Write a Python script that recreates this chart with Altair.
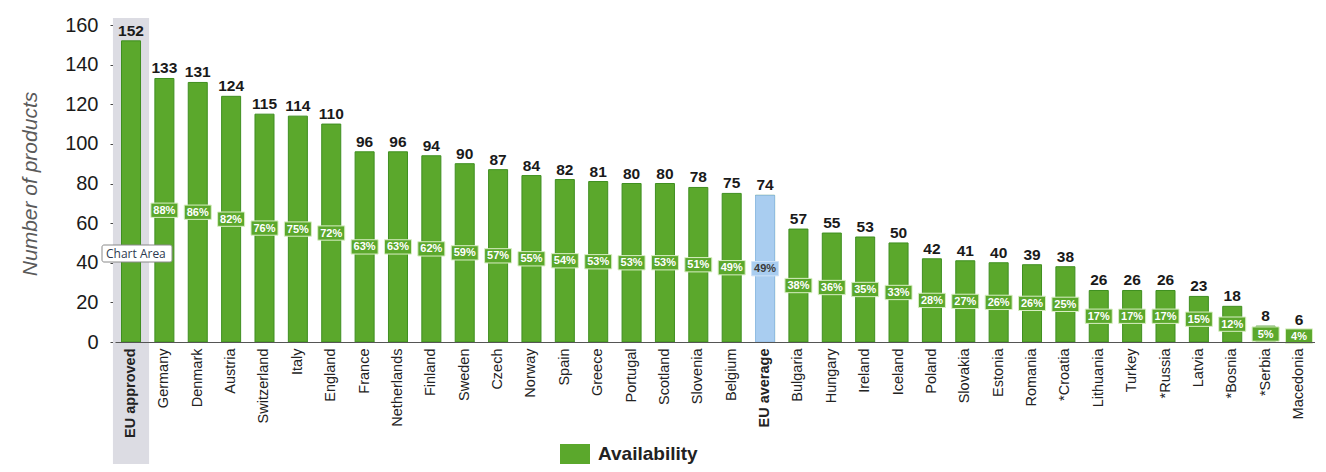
import altair as alt
import pandas as pd

countries = ["EU approved", "Germany", "Denmark", "Austria", "Switzerland", "Italy",
             "England", "France", "Netherlands", "Finland", "Sweden", "Czech", "Norway",
             "Spain", "Greece", "Portugal", "Scotland", "Slovenia", "Belgium", "EU average",
             "Bulgaria", "Hungary", "Ireland", "Iceland", "Poland", "Slovakia", "Estonia",
             "Romania", "*Croatia", "Lithuania", "Turkey", "*Russia", "Latvia", "*Bosnia",
             "*Serbia", "Macedonia"]
values = [152, 133, 131, 124, 115, 114, 110, 96, 96, 94, 90, 87, 84, 82, 81, 80, 80, 78,
          75, 74, 57, 55, 53, 50, 42, 41, 40, 39, 38, 26, 26, 26, 23, 18, 8, 6]
percents = [None, 88, 86, 82, 76, 75, 72, 63, 63, 62, 59, 57, 55, 54, 53, 53, 53, 51,
            49, 49, 38, 36, 35, 33, 28, 27, 26, 26, 25, 17, 17, 17, 15, 12, 5, 4]
y_ticks = [0, 20, 40, 60, 80, 100, 120, 140, 160]
series_name = "Availability"
highlight_band = "EU approved"
average_name = "EU average"

GREEN = "#5ba82c"
GREEN_EDGE = "#3f8f20"
BLUE = "#a9cdf0"
BLUE_EDGE = "#93bde6"
BAND = "#dcdce3"
FONT = "Liberation Sans"

df = pd.DataFrame({
    "country": countries,
    "value": values,
    "pct": percents,
    "series": [series_name] * len(countries),
})
df["pct_label"] = [f"{p}%" if p is not None else "" for p in percents]

x_axis = alt.Axis(
    title=None,
    labelAngle=-90,
    labelFontSize=14.5,
    labelColor="#222222",
    labelFontWeight=alt.ExprRef(
        "datum.value == 'EU approved' || datum.value == 'EU average' ? 'bold' : 'normal'"
    ),
    labelOverlap=False,
    ticks=False,
    tickSize=0,
    labelPadding=6,
    domainColor="#555555",
    domainWidth=1.2,
    zindex=1,
)
x_scale = alt.Scale(paddingInner=0.43, paddingOuter=0.195)
y_scale = alt.Scale(domain=[0, 160], nice=False)
y_axis = alt.Axis(
    title="Number of products",
    titleFontStyle="italic",
    titleFontWeight="normal",
    titleFontSize=21,
    titleColor="#5a5a5a",
    titlePadding=24,
    values=y_ticks,
    tickCount=9,
    labelOverlap=False,
    labelFontSize=20,
    labelColor="#1a1a1a",
    labelPadding=12,
    tickSize=5,
    tickColor="#444444",
    domainColor="#444444",
    domainWidth=1.2,
    grid=False,
)


def X():
    return alt.X("country:N", sort=countries, scale=x_scale, axis=x_axis)


def Y(field):
    return alt.Y(field, scale=y_scale, axis=y_axis)


base = alt.Chart(df)

band = base.transform_filter(alt.datum.country == highlight_band).mark_bar(
    color=BAND, width=alt.RelativeBandSize(1.9)
).encode(
    x=X(),
    y=alt.value(-7),
    y2=alt.value(440),
)

bars = base.mark_bar(stroke=GREEN_EDGE, strokeWidth=1).encode(
    x=X(),
    y=Y("value:Q"),
    color=alt.Color(
        "series:N",
        scale=alt.Scale(domain=[series_name], range=[GREEN]),
        legend=alt.Legend(
            title=None,
            orient="none",
            legendX=445,
            legendY=414,
            symbolType="M-1,-0.667H1V0.667H-1Z",
            symbolSize=900,
            symbolStrokeWidth=0,
            labelFontSize=19,
            labelFontWeight="bold",
            labelColor="#222222",
            labelOffset=8,
        ),
    ),
)

avg_bar = base.transform_filter(alt.datum.country == average_name).mark_bar(
    color=BLUE, stroke=BLUE_EDGE, strokeWidth=1
).encode(
    x=X(),
    y=Y("value:Q"),
)

top_labels = base.mark_text(
    baseline="alphabetic", dy=-5, fontSize=15.5, fontWeight="bold", color="#1a1a1a"
).encode(
    x=X(),
    y=Y("value:Q"),
    text="value:Q",
)

mid = base.transform_filter("datum.pct != null").transform_calculate(
    mid="datum.value / 2",
    is_avg="datum.country == 'EU average'",
)

pct_boxes = mid.mark_point(
    shape="M-1,-0.53H1V0.53H-1Z", size=729, filled=True, opacity=1, strokeWidth=1
).encode(
    x=X(),
    y=Y("mid:Q"),
    fill=alt.condition("datum.is_avg", alt.value(BLUE), alt.value(GREEN)),
    stroke=alt.condition("datum.is_avg", alt.value("#cfe3f7"), alt.value("#d9efc4")),
)

pct_text = mid.mark_text(
    baseline="middle", fontSize=11, fontWeight="bold", dy=0.5
).encode(
    x=X(),
    y=Y("mid:Q"),
    text="pct_label:N",
    color=alt.condition("datum.is_avg", alt.value("#3a3a3a"), alt.value("#ffffff")),
)

tip_df = pd.DataFrame({"label": ["Chart Area"]})
tip_box = alt.Chart(tip_df).mark_rect(
    fill="white", stroke="#8a8a8a", strokeWidth=1, cornerRadius=2
).encode(
    x=alt.value(-13), x2=alt.value(57), y=alt.value(220), y2=alt.value(237)
)
tip_text = alt.Chart(tip_df).mark_text(
    align="left", baseline="middle", fontSize=12, color="#2d3a4f", font="Open Sans"
).encode(
    x=alt.value(-9), y=alt.value(228.5), text="label:N"
)

chart = alt.layer(
    band, bars, avg_bar, top_labels, pct_boxes, pct_text, tip_box, tip_text
).properties(
    width=1200,
    height=317,
    autosize=alt.AutoSizeParams(type="none"),
    padding={"left": 107, "top": 17, "right": 0, "bottom": 122},
).configure(
    font=FONT,
).configure_view(
    stroke=None
)

chart.save("out.html", embed_options={"renderer": "svg", "actions": False})
